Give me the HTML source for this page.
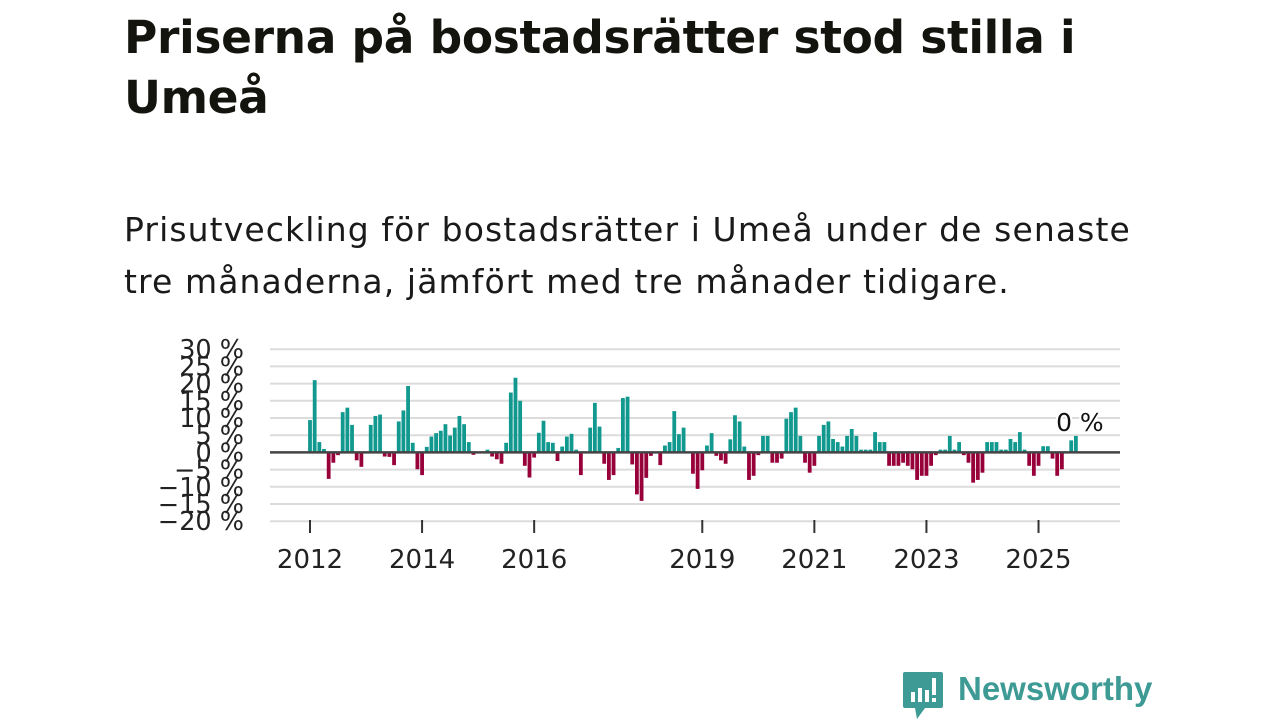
<!DOCTYPE html>
<html><head><meta charset="utf-8"><style>
body{margin:0;width:1280px;height:720px;background:#fff;overflow:hidden;position:relative;font-family:"DejaVu Sans","Liberation Sans",sans-serif;color:#111}
#title{position:absolute;left:124px;top:8px;margin:0;font-size:45.5px;font-weight:bold;line-height:60px;color:#14140f;letter-spacing:-0.35px}
#sub{position:absolute;left:124px;top:204px;margin:0;font-size:33px;line-height:52px;color:#1a1a1a;letter-spacing:1.1px;white-space:nowrap}
svg{position:absolute;left:0;top:0}
</style></head><body>
<h1 id="title">Priserna på bostadsrätter stod stilla i<br>Umeå</h1>
<p id="sub">Prisutveckling för bostadsrätter i Umeå under de senaste<br>tre månaderna, jämfört med tre månader tidigare.</p>
<svg id="chart" width="1280" height="720"></svg>
<div style="position:absolute;left:903px;top:672px;">
<svg width="42" height="48" style="position:static"><path d="M2 0H38Q40 0 40 2V34Q40 36 38 36H22L14 47L12 36H2Q0 36 0 34V2Q0 0 2 0Z" fill="#3d9a94"/><rect x="8" y="20" width="4" height="10" fill="#fff"/><rect x="15" y="16" width="4" height="14" fill="#fff"/><rect x="22" y="18" width="4" height="12" fill="#fff"/><rect x="29" y="6" width="4" height="17" fill="#fff"/><rect x="29" y="26" width="4" height="4" fill="#fff"/></svg>
<span style="position:absolute;left:55px;top:-2px;font-family:'Liberation Sans',sans-serif;font-weight:bold;font-size:33px;color:#3d9a94;white-space:nowrap">Newsworthy</span>
</div>
<script>
const values=[9.4,21,3,1,-7.7,-3,-0.8,11.7,13,8,-2.3,-4.2,0,8,10.6,11,-1.2,-1.3,-3.7,9,12.2,19.3,2.8,-4.9,
-6.6,1.6,4.6,5.6,6.3,8.2,4.9,7.2,10.6,8.2,3,-0.7,0,0,0.8,-1.2,-2,-3.3,2.8,17.4,21.7,15,-3.9,-7.3,
-1.5,5.7,9.2,3,2.8,-2.5,1.7,4.6,5.4,0.8,-6.6,0,7.2,14.4,7.5,-3.3,-8,-6.6,1.3,15.8,16.2,-3.5,-12.2,-14.1,
-7.4,-1,0,-3.7,2,3,12,5.3,7.2,0,-6.2,-10.6,-5.2,2,5.6,-1,-2.3,-3.3,3.8,10.8,9,1.7,-8,-6.8,
-0.8,4.8,4.8,-3,-3,-1.8,9.8,11.7,13,4.8,-3,-5.9,-3.9,4.8,8,9,3.9,3,1.7,4.8,6.8,4.8,0.8,0.8,
0.8,5.9,3,3,-3.9,-3.9,-3.9,-3,-3.9,-4.9,-8,-6.8,-6.8,-3.9,-0.8,0.8,0.8,4.8,0.8,3,-0.8,-3,-8.8,-8,
-5.9,3,3,3,0.8,0.8,3.9,3,5.9,0.8,-3.9,-6.8,-3.9,1.8,1.8,-1.8,-6.8,-4.9,0,3.5,4.8];
const yTicks=[30,25,20,15,10,5,0,-5,-10,-15,-20];
const xTickYears=[2012,2014,2016,2019,2021,2023,2025];
const startYear=2012;
const lastLabel="0 %";
const svg=document.getElementById('chart');
const NS='http://www.w3.org/2000/svg';
const x0=310,step=4.67,yZero=452.4,pxPer=17.2/5;
const xs=i=>x0+i*step;
const ys=v=>yZero-v*pxPer;
function mk(t,a){const e=document.createElementNS(NS,t);for(const k in a)e.setAttribute(k,a[k]);svg.appendChild(e);return e;}
yTicks.forEach(v=>{
 const g=mk('line',{x1:270,x2:1120,y1:ys(v),y2:ys(v),stroke:'#dcdcdc','stroke-width':2});
 
 
 const t=mk('text',{x:244,y:ys(v)+9,'text-anchor':'end','font-size':25.5,fill:'#222','font-family':'DejaVu Sans, Liberation Sans, sans-serif'});
 t.textContent=(v<0?'\u2212'+(-v):v)+' %';
 
 
});
values.forEach((v,i)=>{
 if(v===0)return;
 const r=mk('rect',{x:xs(i)-1.9,width:3.8,y:Math.min(ys(v),yZero),height:Math.abs(ys(v)-yZero),fill:v>0?'#12998f':'#98003a'});
 
 
});
const z=mk('line',{x1:270,x2:1120,y1:yZero,y2:yZero,stroke:'#444','stroke-width':2.5});


const xl=mk('line',{x1:270,x2:1120,y1:521,y2:521,stroke:'#ddd','stroke-width':1});


xTickYears.forEach(y=>{
 const x=xs((y-startYear)*12);
 const tk=mk('line',{x1:x,x2:x,y1:520,y2:533,stroke:'#333','stroke-width':2});
 
 
 const t=mk('text',{x:x,y:568,'text-anchor':'middle','font-size':26,fill:'#222','font-family':'DejaVu Sans, Liberation Sans, sans-serif'});
 t.textContent=y;
 
 
});
const li=values.length-1;
const lab=mk('text',{x:xs(li)+4,y:ys(values[li])-5,'text-anchor':'middle','font-size':25,fill:'#111',stroke:'#fff','stroke-width':4,'paint-order':'stroke','font-family':'DejaVu Sans, Liberation Sans, sans-serif'});
lab.textContent=lastLabel;


</script>
</body></html>
